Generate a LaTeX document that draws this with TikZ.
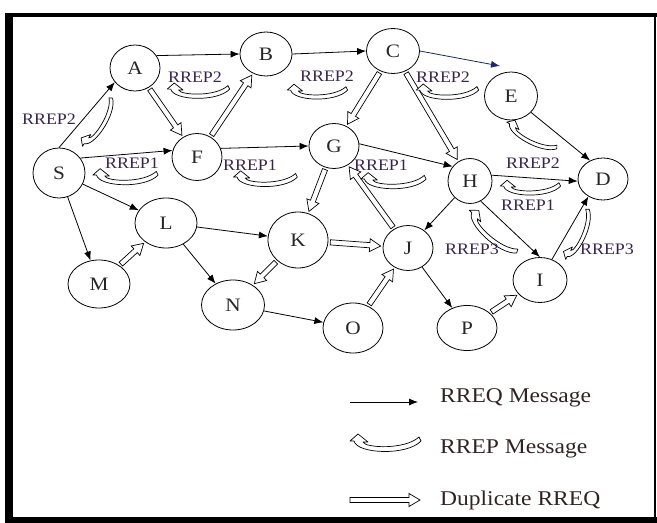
\documentclass[tikz,border=0pt]{standalone}
\usepackage{fontspec}
\setmainfont{Liberation Serif}[FakeStretch=1.12]
\usetikzlibrary{shapes.geometric,arrows.meta,calc}
\definecolor{rrepc}{RGB}{55,35,80}
\definecolor{legc}{RGB}{50,35,35}
\definecolor{navyc}{RGB}{25,40,110}
\tikzset{
  nd/.style={draw, ellipse, inner sep=0pt, line width=0.8bp, fill=white,
    font=\fontsize{19bp}{22bp}\selectfont, text=black!85},
  req/.style={line width=0.8bp, -{Latex[length=9bp,width=7bp]}},
  dup/.style={draw, line width=0.7bp, fill=white, line join=miter},
  rrepline/.style={draw, line width=0.7bp, fill=white, line join=round},
  lbl/.style={font=\fontsize{16bp}{18bp}\selectfont, text=rrepc, inner sep=0pt},
  leg/.style={font=\fontsize{21bp}{24bp}\selectfont, text=legc, anchor=west, inner sep=0pt},
  rrep/.pic={
    \path[rrepline] (-22,0) .. controls (-20,-6) and (20,-8) .. (34,5) -- (36,1)
      .. controls (22,-14) and (-28,-12) .. (-31,1) -- (-35,1) -- (-27,8) -- (-17,0) -- cycle;
  }
}
\newcommand\duparr[2]{%
  \path (#1) -- (#2) coordinate[pos=0] (dupS) coordinate[pos=1] (dupE);
  \pgfpointdiff{\pgfpointanchor{dupS}{center}}{\pgfpointanchor{dupE}{center}}%
  \pgfgetlastxy{\dupdx}{\dupdy}%
  \pgfmathsetmacro\dupang{atan2(\dupdy,\dupdx)}%
  \pgfmathsetmacro\duplen{veclen(\dupdx,\dupdy)}%
  \pgfmathsetmacro\dupb{\duplen-13}%
  \pgfmathsetmacro\dupt{\duplen-2}%
  \path[dup, shift={(dupS)}, rotate=\dupang] (2pt,-2.6pt) -- (\dupb pt,-2.6pt) -- (\dupb pt,-6.5pt)
    -- (\dupt pt,0pt) -- (\dupb pt,6.5pt) -- (\dupb pt,2.6pt) -- (2pt,2.6pt) -- cycle;
}
\begin{document}
\begin{tikzpicture}[x=1bp,y=1bp]
\useasboundingbox (0,0) rectangle (657,-523);
% frame
\fill[black] (5,-13) rectangle (13,-523);
\fill[black] (5,-13) rectangle (657,-17);
\fill[black] (5,-517) rectangle (657,-523);
\draw[line width=1.2bp] (655,-17) -- (655,-517);
% nodes
\node[nd, minimum width=50bp, minimum height=46bp] (A) at (135,-68) {A};
\node[nd, minimum width=52bp, minimum height=44bp] (B) at (266,-54) {B};
\node[nd, minimum width=53bp, minimum height=45bp] (C) at (393,-51) {C};
\node[nd, minimum width=53bp, minimum height=48bp] (E) at (511,-96) {E};
\node[nd, minimum width=50bp, minimum height=42bp] (D) at (603,-179) {D};
\node[nd, minimum width=52bp, minimum height=50bp] (S) at (59,-173) {S};
\node[nd, minimum width=50bp, minimum height=47bp] (F) at (197,-157) {F};
\node[nd, minimum width=50bp, minimum height=45bp] (G) at (334,-146) {G};
\node[nd, minimum width=44bp, minimum height=45bp] (H) at (470,-181) {H};
\node[nd, minimum width=62bp, minimum height=50bp] (L) at (166,-223) {L};
\node[nd, minimum width=60bp, minimum height=56bp] (K) at (298,-240) {K};
\node[nd, minimum width=62bp, minimum height=48bp] (M) at (99,-284) {M};
\node[nd, minimum width=63bp, minimum height=50bp] (N) at (233,-305) {N};
\node[nd, minimum width=50bp, minimum height=45bp] (J) at (408,-248) {J};
\node[nd, minimum width=54bp, minimum height=45bp] (I) at (540,-280) {I};
\node[nd, minimum width=60bp, minimum height=50bp] (O) at (353,-328) {O};
\node[nd, minimum width=60bp, minimum height=45bp] (P) at (467,-328) {P};
\coordinate (Etip) at (500,-66);
% RREQ arrows
\draw[req] (A.30) -- (B.west);
\draw[req] (B.east) -- (C.west);
\draw[req, navyc] (C.east) -- (Etip);
\draw[req] (E) -- (D.125);
\draw[req] (S.north) -- (A.215);
\draw[req] (S.35) -- (F.165);
\draw[req] (S) -- (L);
\draw[req] (S) -- (M);
\draw[req] (F.20) -- (G.west);
\draw[req] (G.5) -- (H.140);
\draw[req] (H.15) -- (D.185);
\draw[req] (H) -- (J);
\draw[req] (H.-62) -- (I.north);
\draw[req] (I.60) -- (D.230);
\draw[req] (L) -- (K);
\draw[req] (L) -- (N);
\draw[req] (N) -- (O);
\draw[req] (J) -- (P);
% duplicate RREQ
\duparr{A}{F}
\duparr{F}{B}
\duparr{C}{G}
\duparr{C}{H}
\duparr{G}{K}
\duparr{J}{G}
\duparr{K}{J}
\duparr{K}{N}
\duparr{M}{L}
\duparr{O}{J}
\duparr{P}{I}
% RREP shapes
\pic[scale=0.88] at (198,-90) {rrep};
\pic[scale=0.85] at (317,-91) {rrep};
\pic[scale=0.88] at (447,-91) {rrep};
\pic[scale=0.92] at (125,-176) {rrep};
\pic[scale=0.9] at (265,-178) {rrep};
\pic[scale=0.92] at (393,-180) {rrep};
\pic[scale=0.85] at (530,-187) {rrep};
\pic[scale=0.8, rotate=58] at (98,-123) {rrep};
\pic[scale=0.8, rotate=-28] at (531,-136) {rrep};
\pic[scale=0.9, rotate=-42] at (492,-232) {rrep};
\pic[scale=0.78, rotate=65] at (578,-235) {rrep};
% RREP labels
\node[lbl] (l1) at (49,-119) {RREP2};
\node[lbl] (l2) at (195,-77) {RREP2};
\node[lbl] (l3) at (327,-76) {RREP2};
\node[lbl] (l4) at (443,-77) {RREP2};
\node[lbl] (l5) at (132,-163) {RREP1};
\node[lbl] (l6) at (250,-165) {RREP1};
\node[lbl] (l7) at (381,-165) {RREP1};
\node[lbl] (l8) at (533,-163) {RREP2};
\node[lbl] (l9) at (528,-205) {RREP1};
\node[lbl] (l10) at (472,-249) {RREP3};
\node[lbl] (l11) at (607,-249) {RREP3};
% legend
\coordinate (lg1a) at (350,-402);
\coordinate (lg1b) at (418,-402);
\draw[req] (lg1a) -- (lg1b);
\node[leg] (t1) at (440,-398) {RREQ Message};
\pic at (385,-442) {rrep};
\node[leg] (t2) at (440,-449) {RREP Message};
\coordinate (lg3a) at (348,-500);
\coordinate (lg3b) at (422,-500);
\duparr{lg3a}{lg3b}
\node[leg] (t3) at (440,-500) {Duplicate RREQ};
\end{tikzpicture}
\end{document}
